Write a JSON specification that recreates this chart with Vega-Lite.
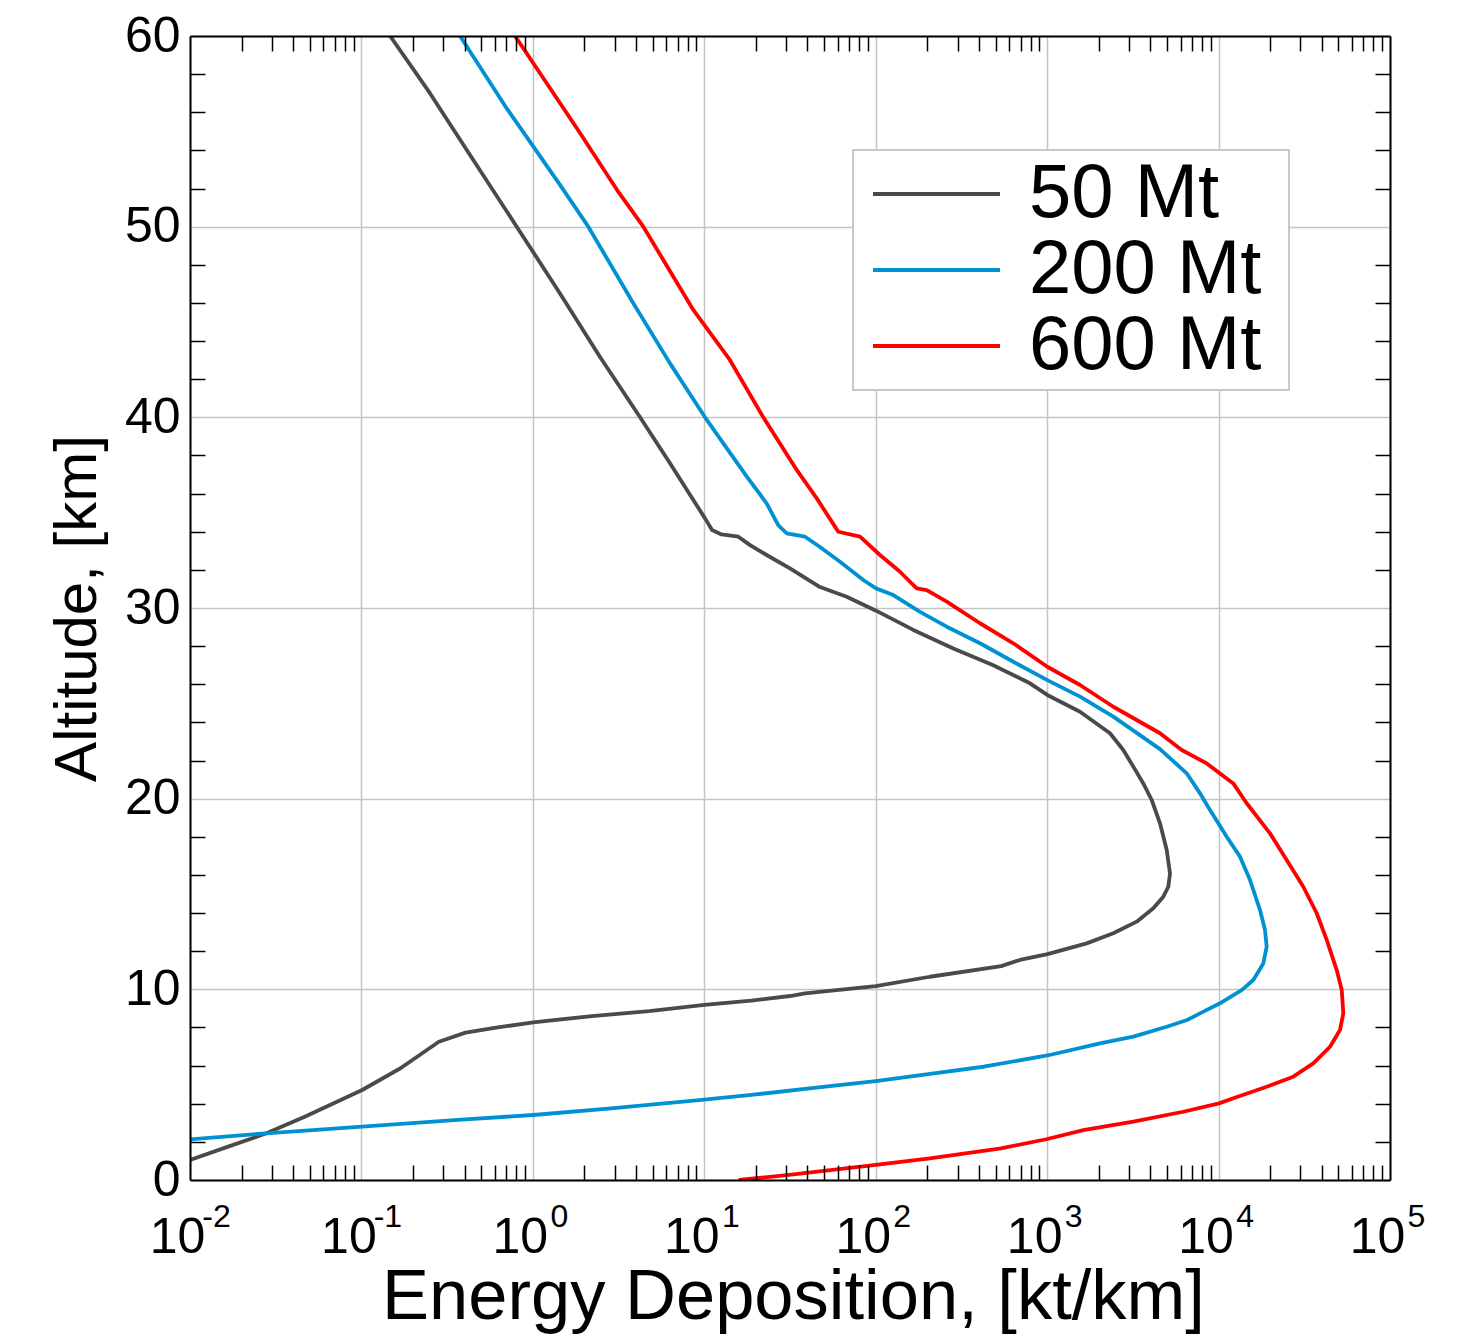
{
  "$schema": "https://vega.github.io/schema/vega-lite/v6.json",
  "width": 1200,
  "height": 1144,
  "autosize": "none",
  "padding": {"left": 190, "top": 36, "right": 91, "bottom": 155},
  "background": "white",
  "config": {
    "font": "Liberation Sans",
    "view": {"stroke": null},
    "axis": {"labelColor": "black", "titleColor": "black", "labelFlush": false, "labelOverlap": false, "labelBound": false}
  },
  "data": {
    "values": [
      {"s": "50 Mt", "alt": 1.05, "ed": 0.0100},
      {"s": "50 Mt", "alt": 1.75, "ed": 0.0167},
      {"s": "50 Mt", "alt": 2.45, "ed": 0.0279},
      {"s": "50 Mt", "alt": 3.32, "ed": 0.0467},
      {"s": "50 Mt", "alt": 4.72, "ed": 0.101},
      {"s": "50 Mt", "alt": 5.86, "ed": 0.169},
      {"s": "50 Mt", "alt": 7.25, "ed": 0.283},
      {"s": "50 Mt", "alt": 7.73, "ed": 0.405},
      {"s": "50 Mt", "alt": 7.99, "ed": 0.611},
      {"s": "50 Mt", "alt": 8.27, "ed": 1.006},
      {"s": "50 Mt", "alt": 8.6, "ed": 2.21},
      {"s": "50 Mt", "alt": 8.86, "ed": 4.77},
      {"s": "50 Mt", "alt": 9.18, "ed": 10.0},
      {"s": "50 Mt", "alt": 9.41, "ed": 18.8},
      {"s": "50 Mt", "alt": 9.65, "ed": 31.6},
      {"s": "50 Mt", "alt": 9.79, "ed": 38.7},
      {"s": "50 Mt", "alt": 10.17, "ed": 100},
      {"s": "50 Mt", "alt": 10.66, "ed": 207},
      {"s": "50 Mt", "alt": 11.22, "ed": 540},
      {"s": "50 Mt", "alt": 11.54, "ed": 694},
      {"s": "50 Mt", "alt": 11.85, "ed": 1005},
      {"s": "50 Mt", "alt": 12.41, "ed": 1701},
      {"s": "50 Mt", "alt": 12.94, "ed": 2432},
      {"s": "50 Mt", "alt": 13.55, "ed": 3330},
      {"s": "50 Mt", "alt": 14.25, "ed": 4163},
      {"s": "50 Mt", "alt": 14.86, "ed": 4760},
      {"s": "50 Mt", "alt": 15.38, "ed": 5091},
      {"s": "50 Mt", "alt": 16.08, "ed": 5208},
      {"s": "50 Mt", "alt": 17.31, "ed": 4983},
      {"s": "50 Mt", "alt": 18.71, "ed": 4553},
      {"s": "50 Mt", "alt": 19.93, "ed": 4074},
      {"s": "50 Mt", "alt": 20.8, "ed": 3638},
      {"s": "50 Mt", "alt": 21.68, "ed": 3182},
      {"s": "50 Mt", "alt": 22.55, "ed": 2781},
      {"s": "50 Mt", "alt": 23.43, "ed": 2326},
      {"s": "50 Mt", "alt": 24.56, "ed": 1555},
      {"s": "50 Mt", "alt": 25.44, "ed": 1002},
      {"s": "50 Mt", "alt": 26.05, "ed": 794},
      {"s": "50 Mt", "alt": 27.0, "ed": 485},
      {"s": "50 Mt", "alt": 27.88, "ed": 283.6},
      {"s": "50 Mt", "alt": 28.85, "ed": 165.7},
      {"s": "50 Mt", "alt": 29.86, "ed": 100.4},
      {"s": "50 Mt", "alt": 30.59, "ed": 67.7},
      {"s": "50 Mt", "alt": 31.1, "ed": 47.3},
      {"s": "50 Mt", "alt": 32.08, "ed": 31.6},
      {"s": "50 Mt", "alt": 32.78, "ed": 23.1},
      {"s": "50 Mt", "alt": 33.3, "ed": 18.5},
      {"s": "50 Mt", "alt": 33.74, "ed": 15.8},
      {"s": "50 Mt", "alt": 33.86, "ed": 12.6},
      {"s": "50 Mt", "alt": 34.09, "ed": 11.1},
      {"s": "50 Mt", "alt": 34.7, "ed": 10.1},
      {"s": "50 Mt", "alt": 37.59, "ed": 6.31},
      {"s": "50 Mt", "alt": 40.0, "ed": 4.22},
      {"s": "50 Mt", "alt": 43.18, "ed": 2.46},
      {"s": "50 Mt", "alt": 46.5, "ed": 1.44},
      {"s": "50 Mt", "alt": 50.0, "ed": 0.805},
      {"s": "50 Mt", "alt": 53.76, "ed": 0.430},
      {"s": "50 Mt", "alt": 57.0, "ed": 0.251},
      {"s": "50 Mt", "alt": 60.0, "ed": 0.147},

      {"s": "200 Mt", "alt": 2.13, "ed": 0.0100},
      {"s": "200 Mt", "alt": 2.45, "ed": 0.0279},
      {"s": "200 Mt", "alt": 2.8, "ed": 0.101},
      {"s": "200 Mt", "alt": 3.15, "ed": 0.365},
      {"s": "200 Mt", "alt": 3.41, "ed": 1.006},
      {"s": "200 Mt", "alt": 3.76, "ed": 2.86},
      {"s": "200 Mt", "alt": 4.21, "ed": 10.0},
      {"s": "200 Mt", "alt": 4.46, "ed": 18.8},
      {"s": "200 Mt", "alt": 4.89, "ed": 49.2},
      {"s": "200 Mt", "alt": 5.19, "ed": 100},
      {"s": "200 Mt", "alt": 5.56, "ed": 207.4},
      {"s": "200 Mt", "alt": 5.94, "ed": 425.9},
      {"s": "200 Mt", "alt": 6.53, "ed": 1003},
      {"s": "200 Mt", "alt": 7.17, "ed": 2034},
      {"s": "200 Mt", "alt": 7.52, "ed": 3182},
      {"s": "200 Mt", "alt": 8.04, "ed": 4983},
      {"s": "200 Mt", "alt": 8.39, "ed": 6553},
      {"s": "200 Mt", "alt": 8.74, "ed": 7791},
      {"s": "200 Mt", "alt": 9.27, "ed": 10193},
      {"s": "200 Mt", "alt": 9.97, "ed": 13698},
      {"s": "200 Mt", "alt": 10.49, "ed": 15948},
      {"s": "200 Mt", "alt": 11.36, "ed": 18239},
      {"s": "200 Mt", "alt": 12.24, "ed": 19085},
      {"s": "200 Mt", "alt": 13.11, "ed": 18655},
      {"s": "200 Mt", "alt": 14.16, "ed": 17446},
      {"s": "200 Mt", "alt": 15.73, "ed": 15260},
      {"s": "200 Mt", "alt": 16.96, "ed": 13335},
      {"s": "200 Mt", "alt": 18.0, "ed": 11155},
      {"s": "200 Mt", "alt": 19.4, "ed": 8913},
      {"s": "200 Mt", "alt": 20.28, "ed": 7791},
      {"s": "200 Mt", "alt": 21.33, "ed": 6518},
      {"s": "200 Mt", "alt": 22.6, "ed": 4553},
      {"s": "200 Mt", "alt": 24.3, "ed": 2432},
      {"s": "200 Mt", "alt": 25.35, "ed": 1555},
      {"s": "200 Mt", "alt": 26.22, "ed": 1002},
      {"s": "200 Mt", "alt": 27.18, "ed": 634.8},
      {"s": "200 Mt", "alt": 28.15, "ed": 405.8},
      {"s": "200 Mt", "alt": 29.02, "ed": 259.5},
      {"s": "200 Mt", "alt": 29.8, "ed": 181.3},
      {"s": "200 Mt", "alt": 30.68, "ed": 126.7},
      {"s": "200 Mt", "alt": 31.03, "ed": 100.4},
      {"s": "200 Mt", "alt": 31.47, "ed": 84.6},
      {"s": "200 Mt", "alt": 32.43, "ed": 61.9},
      {"s": "200 Mt", "alt": 33.2, "ed": 47.3},
      {"s": "200 Mt", "alt": 33.74, "ed": 38.7},
      {"s": "200 Mt", "alt": 33.92, "ed": 30.2},
      {"s": "200 Mt", "alt": 34.35, "ed": 27.0},
      {"s": "200 Mt", "alt": 35.49, "ed": 23.1},
      {"s": "200 Mt", "alt": 36.89, "ed": 17.7},
      {"s": "200 Mt", "alt": 40.0, "ed": 10.1},
      {"s": "200 Mt", "alt": 42.83, "ed": 6.31},
      {"s": "200 Mt", "alt": 45.98, "ed": 3.854},
      {"s": "200 Mt", "alt": 50.0, "ed": 2.106},
      {"s": "200 Mt", "alt": 52.27, "ed": 1.42},
      {"s": "200 Mt", "alt": 56.2, "ed": 0.704},
      {"s": "200 Mt", "alt": 60.0, "ed": 0.376},

      {"s": "600 Mt", "alt": 0.0, "ed": 15.9},
      {"s": "600 Mt", "alt": 0.26, "ed": 30.4},
      {"s": "600 Mt", "alt": 0.79, "ed": 100},
      {"s": "600 Mt", "alt": 1.14, "ed": 207},
      {"s": "600 Mt", "alt": 1.66, "ed": 538},
      {"s": "600 Mt", "alt": 2.15, "ed": 1003},
      {"s": "600 Mt", "alt": 2.62, "ed": 1625},
      {"s": "600 Mt", "alt": 3.06, "ed": 3182},
      {"s": "600 Mt", "alt": 3.58, "ed": 6227},
      {"s": "600 Mt", "alt": 4.02, "ed": 10058},
      {"s": "600 Mt", "alt": 4.35, "ed": 12800},
      {"s": "600 Mt", "alt": 4.89, "ed": 19085},
      {"s": "600 Mt", "alt": 5.42, "ed": 27280},
      {"s": "600 Mt", "alt": 6.12, "ed": 35690},
      {"s": "600 Mt", "alt": 6.99, "ed": 44670},
      {"s": "600 Mt", "alt": 7.87, "ed": 51100},
      {"s": "600 Mt", "alt": 8.74, "ed": 53420},
      {"s": "600 Mt", "alt": 9.97, "ed": 52290},
      {"s": "600 Mt", "alt": 11.01, "ed": 48880},
      {"s": "600 Mt", "alt": 12.59, "ed": 42740},
      {"s": "600 Mt", "alt": 13.99, "ed": 37370},
      {"s": "600 Mt", "alt": 15.38, "ed": 31210},
      {"s": "600 Mt", "alt": 16.78, "ed": 24966},
      {"s": "600 Mt", "alt": 18.18, "ed": 19953},
      {"s": "600 Mt", "alt": 19.76, "ed": 14588},
      {"s": "600 Mt", "alt": 20.8, "ed": 12183},
      {"s": "600 Mt", "alt": 21.85, "ed": 8527},
      {"s": "600 Mt", "alt": 22.55, "ed": 6095},
      {"s": "600 Mt", "alt": 23.43, "ed": 4553},
      {"s": "600 Mt", "alt": 24.82, "ed": 2432},
      {"s": "600 Mt", "alt": 25.96, "ed": 1555},
      {"s": "600 Mt", "alt": 26.92, "ed": 1002},
      {"s": "600 Mt", "alt": 28.15, "ed": 634.8},
      {"s": "600 Mt", "alt": 29.2, "ed": 405.8},
      {"s": "600 Mt", "alt": 30.33, "ed": 259.5},
      {"s": "600 Mt", "alt": 30.94, "ed": 198.4},
      {"s": "600 Mt", "alt": 31.03, "ed": 173.4},
      {"s": "600 Mt", "alt": 31.9, "ed": 138.6},
      {"s": "600 Mt", "alt": 32.78, "ed": 105.9},
      {"s": "600 Mt", "alt": 33.74, "ed": 81.0},
      {"s": "600 Mt", "alt": 34.0, "ed": 60.5},
      {"s": "600 Mt", "alt": 34.53, "ed": 55.4},
      {"s": "600 Mt", "alt": 35.75, "ed": 45.3},
      {"s": "600 Mt", "alt": 37.24, "ed": 34.6},
      {"s": "600 Mt", "alt": 40.0, "ed": 22.1},
      {"s": "600 Mt", "alt": 43.01, "ed": 14.1},
      {"s": "600 Mt", "alt": 45.63, "ed": 8.63},
      {"s": "600 Mt", "alt": 50.0, "ed": 4.41},
      {"s": "600 Mt", "alt": 51.92, "ed": 3.10},
      {"s": "600 Mt", "alt": 55.07, "ed": 1.834},
      {"s": "600 Mt", "alt": 60.0, "ed": 0.787}
    ]
  },
  "resolve": {"axis": {"x": "independent", "y": "independent"}},
  "layer": [
    {
      "mark": {"type": "line", "strokeWidth": 3.8, "clip": true, "strokeJoin": "round"},
      "encoding": {
        "x": {
          "field": "ed", "type": "quantitative",
          "scale": {"type": "log", "domain": [0.01, 100000], "nice": false},
          "axis": {
            "orient": "bottom",
            "values": [0.01, 0.1, 1, 10, 100, 1000, 10000, 100000],
            "labelExpr": "'10'",
            "grid": true, "gridColor": "#c4c4c4", "gridWidth": 1.5,
            "ticks": false, "tickSize": 0, "domain": false,
            "labelFont": "Liberation Sans", "labelFontSize": 50, "labelAlign": "center", "labelOffset": -13,
            "labelBaseline": "alphabetic", "labelPadding": 72,
            "title": "Energy Deposition, [kt/km]", "titleFont": "Liberation Sans", "titleFontSize": 70.5,
            "titleFontWeight": "normal", "titleBaseline": "alphabetic", "titleAlign": "center",
            "titleX": 603, "titleY": 138
          }
        },
        "y": {
          "field": "alt", "type": "quantitative",
          "scale": {"domain": [0, 60], "nice": false},
          "axis": {
            "orient": "left",
            "values": [0, 10, 20, 30, 40, 50, 60],
            "grid": true, "gridColor": "#c4c4c4", "gridWidth": 1.5,
            "ticks": false, "tickSize": 0, "domain": false,
            "labelFont": "Liberation Sans", "labelFontSize": 50, "labelPadding": 10,
            "labelAlign": "right", "labelBaseline": "middle",
            "title": "Altitude, [km]", "titleFont": "Liberation Sans", "titleFontSize": 60,
            "titleFontWeight": "normal", "titleAngle": -90, "titleBaseline": "alphabetic",
            "titleAlign": "center", "titleX": -95, "titleY": 572
          }
        },
        "color": {
          "field": "s", "type": "nominal",
          "scale": {"domain": ["50 Mt", "200 Mt", "600 Mt"], "range": ["#4a4a4a", "#0091d2", "#ff0000"]},
          "legend": {
            "orient": "none", "legendX": 663, "legendY": 114, "title": null,
            "symbolType": "M-1.2,0H5.15", "symbolSize": 1600, "symbolStrokeWidth": 4,
            "labelFont": "Liberation Sans", "labelFontSize": 76, "labelColor": "black", "labelOffset": 94,
            "labelExpr": "datum.label + '\u00a0\u200b'",
            "labelLimit": 0, "padding": 6, "rowPadding": 0,
            "fillColor": "white", "strokeColor": "#c8c8c8",
            "encode": {"legend": {"update": {"strokeWidth": {"value": 2}}}}
          }
        },
        "order": {"field": "alt", "type": "quantitative"}
      }
    },
    {
      "mark": {"type": "point", "opacity": 0, "size": 0},
      "encoding": {
        "x": {
          "field": "ed", "type": "quantitative",
          "axis": {
            "orient": "bottom",
            "values": [0.01, 0.1, 1, 10, 100, 1000, 10000, 100000],
            "labelExpr": "'' + round(log(datum.value) / LN10)",
            "grid": false, "ticks": false, "tickSize": 0, "domain": false,
            "labelFont": "Liberation Sans", "labelFontSize": 32, "labelAlign": "center", "labelOffset": 26,
            "labelBaseline": "alphabetic", "labelPadding": 46, "title": null
          }
        },
        "y": {
          "field": "alt", "type": "quantitative",
          "axis": {
            "orient": "left",
            "values": [2, 4, 6, 8, 12, 14, 16, 18, 22, 24, 26, 28, 32, 34, 36, 38, 42, 44, 46, 48, 52, 54, 56, 58],
            "labels": false, "grid": false, "ticks": true, "tickSize": -15, "tickColor": "black", "tickWidth": 1.5,
            "domain": true, "domainColor": "black", "domainWidth": 2, "title": null, "zindex": 1
          }
        }
      }
    },
    {
      "mark": {"type": "point", "opacity": 0, "size": 0},
      "encoding": {
        "x": {
          "field": "ed", "type": "quantitative",
          "axis": {
            "orient": "bottom",
            "values": [0.02, 0.03, 0.04, 0.05, 0.06, 0.07, 0.08, 0.09, 0.2, 0.3, 0.4, 0.5, 0.6, 0.7, 0.8, 0.9, 2, 3, 4, 5, 6, 7, 8, 9, 20, 30, 40, 50, 60, 70, 80, 90, 200, 300, 400, 500, 600, 700, 800, 900, 2000, 3000, 4000, 5000, 6000, 7000, 8000, 9000, 20000, 30000, 40000, 50000, 60000, 70000, 80000, 90000],
            "labels": false, "grid": false, "ticks": true, "tickSize": -15, "tickColor": "black", "tickWidth": 1.5,
            "domain": true, "domainColor": "black", "domainWidth": 2, "title": null, "zindex": 1
          }
        },
        "y": {
          "field": "alt", "type": "quantitative",
          "axis": {
            "orient": "right",
            "values": [2, 4, 6, 8, 12, 14, 16, 18, 22, 24, 26, 28, 32, 34, 36, 38, 42, 44, 46, 48, 52, 54, 56, 58],
            "labels": false, "grid": false, "ticks": true, "tickSize": -15, "tickColor": "black", "tickWidth": 1.5,
            "domain": true, "domainColor": "black", "domainWidth": 2, "title": null, "zindex": 1
          }
        }
      }
    },
    {
      "mark": {"type": "point", "opacity": 0, "size": 0},
      "encoding": {
        "x": {
          "field": "ed", "type": "quantitative",
          "axis": {
            "orient": "top",
            "values": [0.02, 0.03, 0.04, 0.05, 0.06, 0.07, 0.08, 0.09, 0.2, 0.3, 0.4, 0.5, 0.6, 0.7, 0.8, 0.9, 2, 3, 4, 5, 6, 7, 8, 9, 20, 30, 40, 50, 60, 70, 80, 90, 200, 300, 400, 500, 600, 700, 800, 900, 2000, 3000, 4000, 5000, 6000, 7000, 8000, 9000, 20000, 30000, 40000, 50000, 60000, 70000, 80000, 90000],
            "labels": false, "grid": false, "ticks": true, "tickSize": -15, "tickColor": "black", "tickWidth": 1.5,
            "domain": true, "domainColor": "black", "domainWidth": 2, "title": null, "zindex": 1
          }
        },
        "y": {
          "field": "alt", "type": "quantitative",
          "axis": null
        }
      }
    }
  ]
}
